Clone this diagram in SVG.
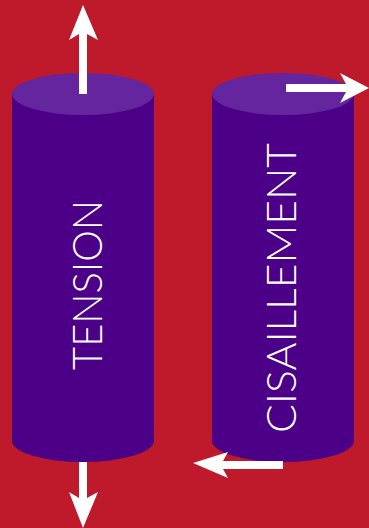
<svg xmlns="http://www.w3.org/2000/svg" width="369" height="528" viewBox="0 0 369 528">
<style>
.body{fill:#4B0087}
.top{fill:#65259E}
.arrow{fill:#FFFFFF}
.lbl{fill:#FFFFFF;font-family:Lato,"Open Sans","Liberation Sans",sans-serif;font-weight:300;font-size:42px;text-anchor:middle}
</style>
<rect width="369" height="528" fill="#BE1A2C"/>
<g id="tension">
<path class="body" d="M12,94 V441 A71,21 0 0 0 154,441 V94 Z"/>
<ellipse class="top" cx="83" cy="94" rx="71" ry="21"/>
<text class="lbl" transform="translate(102,285) rotate(-90)" textLength="170" lengthAdjust="spacingAndGlyphs">TENSION</text>
</g>
<g id="cisaillement">
<path class="body" d="M212,94 V441 A71,21 0 0 0 354,441 V94 Z"/>
<ellipse class="top" cx="283" cy="94" rx="71" ry="21"/>
<text class="lbl" transform="translate(296,288) rotate(-90)" textLength="290" lengthAdjust="spacingAndGlyphs">CISAILLEMENT</text>
</g>
<g id="connectors">
<path class="arrow" d="M79,94 V34 L69,40 L83,5 L98,40 L87,34 V94 Z"/>
<path class="arrow" d="M79,462 V498 L69,492 L83,528 L98,492 L87,498 V462 Z"/>
<path class="arrow" d="M286,84 H346 L340,73 L369,88 L340,103 L346,92 H286 Z"/>
<path class="arrow" d="M283,461 H223 L228,452 L193,463 L228,478 L223,469 H283 Z"/>
</g>
</svg>
